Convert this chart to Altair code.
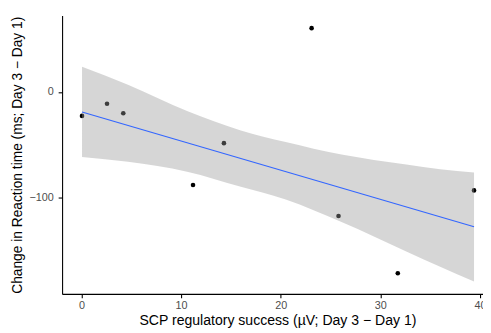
import altair as alt
import pandas as pd

# Data
scp = [0.06, 2.57, 4.2, 11.2, 14.3, 23.1, 25.8, 31.75, 39.4]
rt_change = [-22.7, -11.2, -20.2, -88.4, -48.6, 60.7, -117.8, -172.2, -93.5]

# Fitted line (end points) and confidence band
fit_x = [0.06, 39.4]
fit_y = [-19.0, -128.0]
band_x = [0.06, 4.67, 10.6, 16.0, 20.5, 26.1, 32.6, 36.0, 39.4]
band_hi = [24.0, 6.9, -18.0, -36.5, -47.6, -59.5, -69.0, -73.5, -76.6]
band_lo = [-61.7, -66.3, -75.7, -90.0, -102.1, -123.5, -151.5, -166.0, -180.0]

pts = pd.DataFrame({"x": scp, "y": rt_change})
line_df = pd.DataFrame({"x": fit_x, "fit": fit_y})
band_df = pd.DataFrame({"x": band_x, "lo": band_lo, "hi": band_hi})

xdom = [-1.94, 40.3]
ydom = [-191.9, 72.6]
font = "Liberation Sans"

xscale = alt.Scale(domain=xdom, nice=False, zero=False)
yscale = alt.Scale(domain=ydom, nice=False, zero=False)

xaxis = alt.Axis(
    title="SCP regulatory success (µV; Day 3 − Day 1)",
    values=[0, 10, 20, 30, 40], grid=False, domainColor="black", domainWidth=1.1,
    tickColor="black", tickSize=4, tickWidth=1.1, labelColor="#4D4D4D",
    labelFontSize=11, labelFont=font, labelPadding=2, labelFlush=False,
    titleFont=font, titleFontSize=14.3, titleFontWeight="normal", titleColor="black",
    titlePadding=3, titleX=219, titleAnchor="start", titleAlign="center",
)
yaxis = alt.Axis(
    title="Change in Reaction time (ms; Day 3 − Day 1)",
    values=[-100, 0], grid=False, domainColor="black", domainWidth=1.1,
    tickColor="black", tickSize=4, tickWidth=1.1, labelColor="#4D4D4D",
    labelFontSize=11, labelFont=font, labelPadding=5,
    titleFont=font, titleFontSize=14, titleFontWeight="normal", titleColor="black",
    titlePadding=4,
)

points = alt.Chart(pts).mark_circle(size=22, color="black", opacity=1).encode(
    x=alt.X("x:Q", scale=xscale, axis=xaxis),
    y=alt.Y("y:Q", scale=yscale, axis=yaxis),
)
band = alt.Chart(band_df).mark_area(color="#999999", opacity=0.4, interpolate="monotone").encode(
    x=alt.X("x:Q", scale=xscale), y=alt.Y("lo:Q", scale=yscale), y2="hi:Q"
)
line = alt.Chart(line_df).mark_line(color="#3366FF", strokeWidth=1.1).encode(
    x=alt.X("x:Q", scale=xscale), y=alt.Y("fit:Q", scale=yscale)
)

chart = (
    alt.layer(points, band, line)
    .properties(
        width=428, height=283,
        autosize=alt.AutoSizeParams(type="none"),
        padding={"left": 55, "top": 5, "right": 0, "bottom": 37},
        background="white",
    )
    .configure_view(stroke=None)
)

chart.save("out.html", embed_options={"renderer": "svg", "actions": False})
